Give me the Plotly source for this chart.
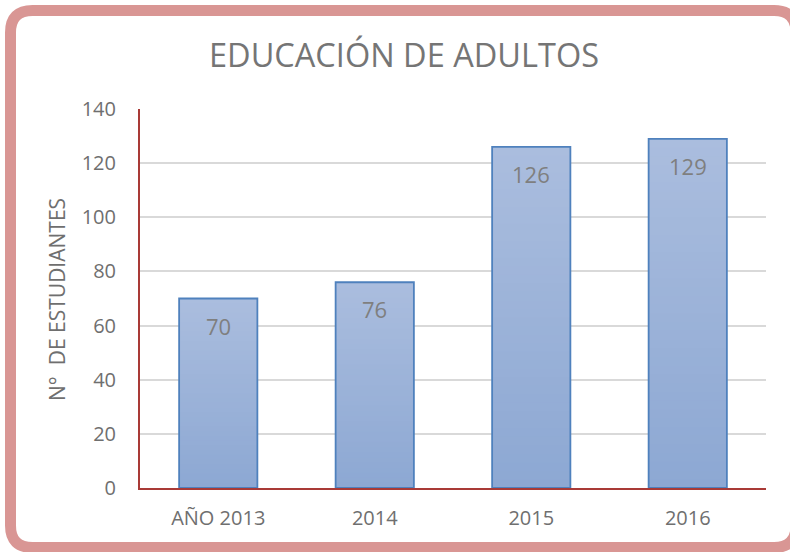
import plotly.graph_objects as go

categories = ["AÑO 2013", "2014", "2015", "2016"]
values = [70, 76, 126, 129]
y_ticks = [0, 20, 40, 60, 80, 100, 120, 140]
title_text = "EDUCACIÓN DE ADULTOS"
y_title = "N°  DE ESTUDIANTES"

W, H = 790, 552
ML, MR, MT, MB = 140, 24, 109, 64
PW, PH = W - ML - MR, H - MT - MB

def px(x):
    return (x - ML) / PW

def py(y):
    return (H - MB - y) / PH

top_c = (170, 189, 222)
bot_c = (141, 168, 211)
K = 40

fig = go.Figure()
for k in range(K):
    t = k / (K - 1)
    c = tuple(round(top_c[i] + (bot_c[i] - top_c[i]) * t) for i in range(3))
    fig.add_trace(go.Bar(
        x=categories,
        y=[v * (K - k) / K for v in values],
        marker=dict(color="rgb(%d,%d,%d)" % c, line=dict(width=0)),
        width=0.5,
        hoverinfo="skip",
    ))
fig.add_trace(go.Bar(
    x=categories, y=values, width=0.5,
    marker=dict(color="rgba(0,0,0,0)", line=dict(color="#4f81bd", width=1.8)),
))

for i, v in enumerate(values):
    fig.add_annotation(x=i, y=v, text=str(v), showarrow=False, yanchor="top",
                       yshift=-10, font=dict(family="Open Sans", size=22, color="#7f7f7f"))

fig.add_annotation(xref="paper", yref="paper", x=px(57), y=py(300), text=y_title,
                   textangle=-90, showarrow=False, xanchor="center", yanchor="middle",
                   font=dict(family="Open Sans", size=21, color="#6f6f6f"))

# rounded border
L, T, R, B, r = 10.5, 10.5, 796, 547.5, 22
path = (f"M {px(L+r)},{py(T)} L {px(R-r)},{py(T)} Q {px(R)},{py(T)} {px(R)},{py(T+r)} "
        f"L {px(R)},{py(B-r)} Q {px(R)},{py(B)} {px(R-r)},{py(B)} "
        f"L {px(L+r)},{py(B)} Q {px(L)},{py(B)} {px(L)},{py(B-r)} "
        f"L {px(L)},{py(T+r)} Q {px(L)},{py(T)} {px(L+r)},{py(T)} Z")
fig.add_shape(type="path", path=path, xref="paper", yref="paper",
              line=dict(color="#d99694", width=11))

fig.update_layout(
    width=W, height=H,
    margin=dict(l=ML, r=MR, t=MT, b=MB, autoexpand=False),
    paper_bgcolor="white", plot_bgcolor="white",
    barmode="overlay", showlegend=False,
    title=dict(text=title_text, xref="paper", x=px(404), xanchor="center",
               yref="container", y=1 - 56 / H, yanchor="middle",
               font=dict(family="Open Sans", size=32.5, color="#757575")),
    font=dict(family="Open Sans", color="#6f6f6f"),
)
fig.update_xaxes(type="category", showline=True, linecolor="#a93a36", linewidth=2, ticks="",
                 tickfont=dict(size=20, color="#6f6f6f"), ticklabelstandoff=11,
                 showgrid=False, automargin=False)
fig.update_yaxes(range=[0, 140], tickvals=y_ticks, showline=True, linecolor="#a93a36",
                 linewidth=2, ticks="", showgrid=True, gridcolor="#d9d9d9", gridwidth=1.5,
                 tickfont=dict(size=20, color="#6f6f6f"), ticklabelstandoff=18,
                 zeroline=False, automargin=False)

fig.write_html("out.html", config={"displayModeBar": False},
               post_script="document.body.style.margin='0';document.body.style.overflow='hidden';")
